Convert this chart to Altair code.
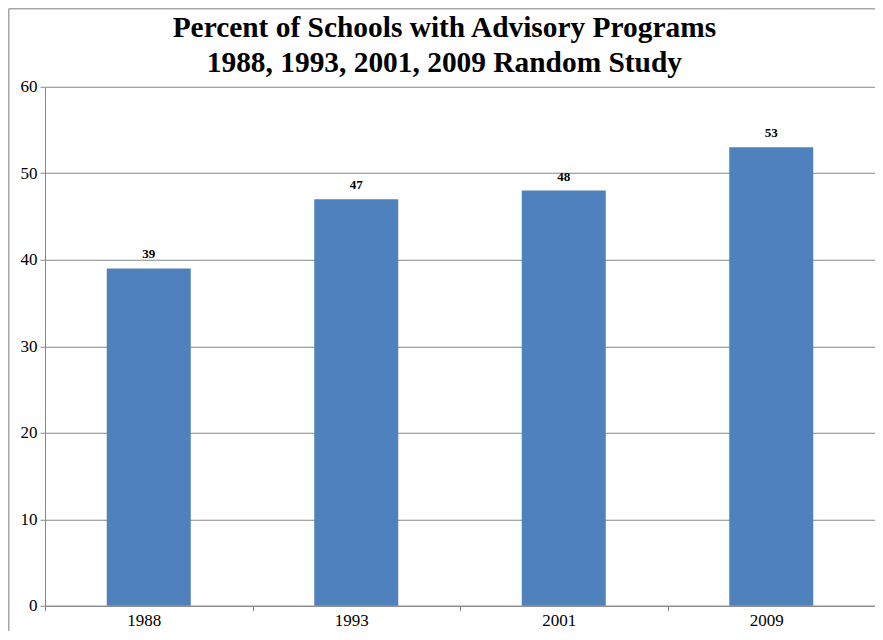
import altair as alt
import pandas as pd

years = ["1988", "1993", "2001", "2009"]
percents = [39, 47, 48, 53]
y_ticks = [0, 10, 20, 30, 40, 50, 60]
title_lines = ["Percent of Schools with Advisory Programs",
               "1988, 1993, 2001, 2009 Random Study"]

df = pd.DataFrame({"year": years, "pct": percents})

SERIF = "Liberation Serif"
GRID = "#868686"

base = alt.Chart(df).encode(
    x=alt.X("year:N", sort=years,
            scale=alt.Scale(paddingInner=0, paddingOuter=0),
            axis=alt.Axis(title=None, labelAngle=0, tickBand="extent",
                          domainColor=GRID, tickColor=GRID, tickSize=5,
                          labelFont=SERIF, labelFontSize=17, labelColor="black",
                          labelPadding=2, labelOffset=-5, grid=False)),
    y=alt.Y("pct:Q", scale=alt.Scale(domain=[0, 60], nice=False),
            axis=alt.Axis(title=None, values=y_ticks, grid=True, gridColor=GRID,
                          domainColor=GRID, tickColor=GRID, tickSize=5,
                          labelFont=SERIF, labelFontSize=17, labelColor="black",
                          labelPadding=3)),
)

bars = base.mark_bar(size=84, color="#4F81BD")
labels = base.mark_text(dy=-10, baseline="alphabetic", font=SERIF,
                        fontWeight="bold", fontSize=13, color="black").encode(
    text=alt.Text("pct:Q"))

one = alt.Chart(pd.DataFrame({"k": [0]}))
top_border = one.mark_rule(color="#a6a6a6", strokeWidth=1.5).encode(
    x=alt.value(-36.25), x2=alt.value(835), y=alt.value(-78))
left_border = one.mark_rule(color="#a6a6a6", strokeWidth=1.5).encode(
    x=alt.value(-36.25), y=alt.value(-78), y2=alt.value(560))

chart = alt.layer(bars, labels, top_border, left_border).properties(
    width=830, height=519,
    autosize=alt.AutoSizeParams(type="none"),
    padding={"left": 37, "top": 78.75, "right": 0, "bottom": 25},
    title=alt.TitleParams(text=title_lines, font=SERIF, fontSize=29.4,
                          fontWeight="bold", color="black", anchor="middle",
                          frame="bounds", baseline="alphabetic",
                          lineHeight=35, offset=-93),
    background="white",
).configure_view(stroke=None).configure_axis(
    labelFont=SERIF, labelFontSize=17, labelColor="black")

chart.save("out.html", embed_options={"renderer": "svg", "actions": False})
